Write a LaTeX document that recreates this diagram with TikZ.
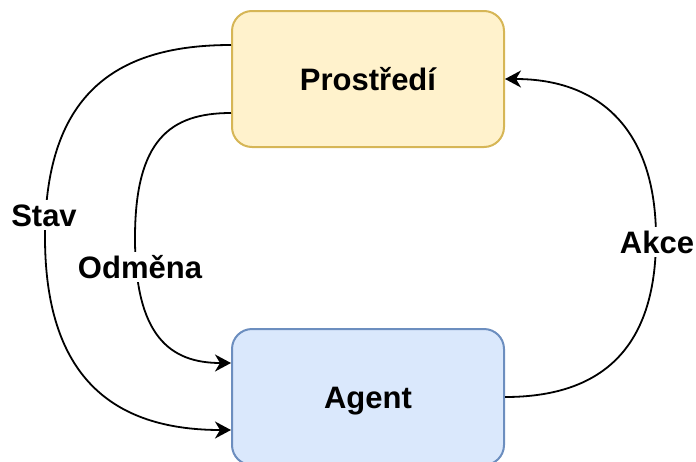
\documentclass[tikz,border=0pt]{standalone}
\usepackage{fontspec}
\setmainfont{Liberation Sans}
\usetikzlibrary{positioning,arrows.meta}

\definecolor{envfill}{HTML}{FFF2CC}
\definecolor{envline}{HTML}{D6B656}
\definecolor{agentfill}{HTML}{DAE8FC}
\definecolor{agentline}{HTML}{6C8EBF}

\begin{document}
\begin{tikzpicture}[
    x=1pt, y=-1pt, line width=2pt,
    big text/.style={font=\fontsize{31}{37}\selectfont\bfseries, text height=22pt, text depth=0pt},
    box node/.style={rectangle, rounded corners=20pt, minimum width=272pt, minimum height=136pt, big text},
    env node/.style={box node, draw=envline, fill=envfill},
    agent node/.style={box node, draw=agentline, fill=agentfill},
    label node/.style={big text, fill=white, inner sep=4pt},
    flow/.style={-{Stealth[length=16pt, width=17pt, inset=5pt]}, line width=1.8pt}
]
    \useasboundingbox (0,0) rectangle (696,461);

    \node[env node] (env) at (368,79) {Prostředí};
    \node[agent node] (agent) [below=180pt of env] {Agent};

    \draw[flow] ([yshift=34pt]env.west) .. controls (120,45) and (45,90) .. (45,237)
        .. controls (45,384) and (120,430) .. ([yshift=-33pt]agent.west);
    \draw[flow] ([yshift=-34pt]env.west) .. controls (170,113) and (135,140) .. (135,238)
        .. controls (135,336) and (170,363) .. ([yshift=34pt]agent.west);
    \draw[flow] (agent.east) .. controls (600,397) and (656,350) .. (656,238)
        .. controls (656,130) and (600,79) .. (env.east);

    \node[label node] (stav)   at (44,215)  {Stav};
    \node[label node] (odmena) at (140,267) {Odměna};
    \node[label node] (akce)   at (657,242) {Akce};
\end{tikzpicture}
\end{document}
